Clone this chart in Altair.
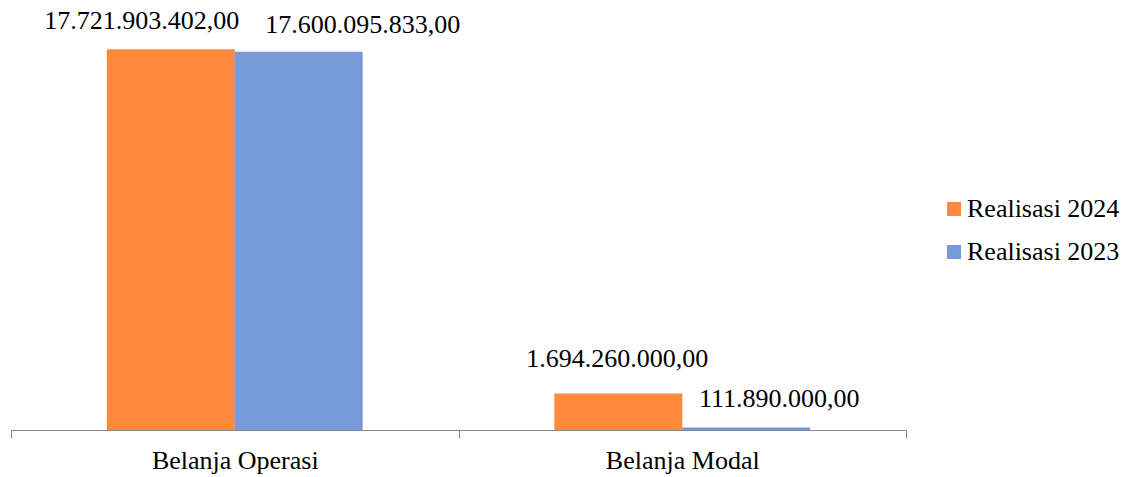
import altair as alt
import pandas as pd

categories = ["Belanja Operasi", "Belanja Modal"]
series = ["Realisasi 2024", "Realisasi 2023"]
values_2024 = [17721903402.00, 1694260000.00]
values_2023 = [17600095833.00, 111890000.00]
colors = ["#FF8A3B", "#7799D8"]

def fmt(v):
    s = f"{v:,.2f}"
    return s.replace(",", "X").replace(".", ",").replace("X", ".")

rows = []
for i, c in enumerate(categories):
    rows.append({"cat": c, "series": series[0], "value": values_2024[i], "label": fmt(values_2024[i])})
    rows.append({"cat": c, "series": series[1], "value": values_2023[i], "label": fmt(values_2023[i])})
df = pd.DataFrame(rows)

FONT = "Times New Roman, Liberation Serif, serif"

x = alt.X("cat:N", sort=categories, title=None,
          scale=alt.Scale(paddingInner=0, paddingOuter=0),
          axis=alt.Axis(labelAngle=0, tickBand="extent", tickSize=8, domainColor="#888888",
                        tickColor="#888888", labelFont=FONT, labelFontSize=26, labelColor="#000000",
                        labelPadding=9, grid=False))
xo = alt.XOffset("series:N", sort=series, scale=alt.Scale(paddingOuter=0.75, paddingInner=0))
y = alt.Y("value:Q", scale=alt.Scale(domain=[0, 19.5e9]), axis=None)

bars = alt.Chart(df).mark_bar(size=128).encode(
    x=x, xOffset=xo, y=y,
    color=alt.Color("series:N", sort=series, scale=alt.Scale(domain=series, range=colors),
                    legend=alt.Legend(title=None, orient="none", legendX=930, legendY=185,
                                      symbolType="square", symbolSize=196, symbolStrokeWidth=0,
                                      labelFont=FONT, labelFontSize=26, labelColor="#000000",
                                      rowPadding=17, labelOffset=0, labelLimit=300)),
)

# label offsets (dx, dy) per bar to avoid overlap, as in the original
label_offsets = {
    ("Belanja Operasi", "Realisasi 2024"): (-29, -20),
    ("Belanja Operasi", "Realisasi 2023"): (64, -19),
    ("Belanja Modal", "Realisasi 2024"): (-1, -27),
    ("Belanja Modal", "Realisasi 2023"): (33, -21),
}

layers = [bars]
for (c, s), (dx, dy) in label_offsets.items():
    t = alt.Chart(df).transform_filter(
        (alt.datum.cat == c) & (alt.datum.series == s)
    ).mark_text(font=FONT, fontSize=26, color="#000000", baseline="alphabetic", dx=dx, dy=dy).encode(
        x=x, xOffset=xo, y=y, text="label:N"
    )
    layers.append(t)

chart = alt.layer(*layers).properties(
    width=895, height=419,
    background="#FFFFFF",
    autosize=alt.AutoSizeParams(type="none"),
    padding={"left": 3, "top": 3, "right": 217, "bottom": 47},
).configure_view(stroke=None, strokeWidth=0)

chart.save("out.html", embed_options={"renderer": "svg", "actions": False})
